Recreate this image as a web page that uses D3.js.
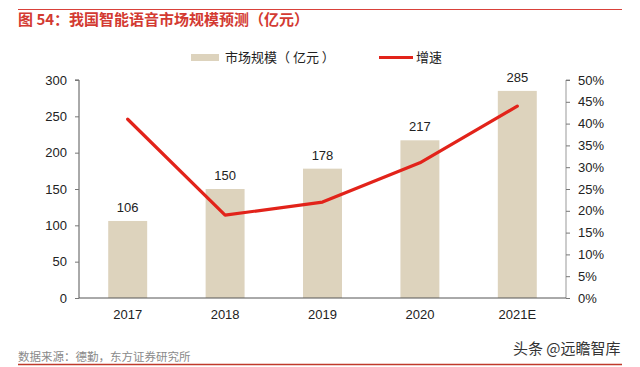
<!DOCTYPE html>
<html><head><meta charset="utf-8">
<script src="https://cdn.jsdelivr.net/npm/d3@7/dist/d3.min.js"></script>
<style>
body{margin:0;background:#fff;}
svg{display:block;font-family:"Liberation Sans",Arial,"Noto Sans CJK SC",sans-serif;}
</style></head>
<body>
<svg id="c" width="640" height="367"></svg>
<script>
const categories = ["2017","2018","2019","2020","2021E"];
const marketSize = [106,150,178,217,285];
const growth = [0.41,0.19,0.22,0.31,0.44];
const leftTicks = [0,50,100,150,200,250,300];
const rightTicks = [0,0.05,0.10,0.15,0.20,0.25,0.30,0.35,0.40,0.45,0.50];

const svg = d3.select("#c");
const cjk = '"Noto Sans CJK SC","Liberation Sans",sans-serif';
const L = 79, R = 566, T = 80, B = 298;

// top / bottom rules
svg.append("line").attr("x1",18).attr("x2",622).attr("y1",9.5).attr("y2",9.5).attr("stroke","#d9413a").attr("stroke-width",1.2);
svg.append("line").attr("x1",18).attr("x2",622).attr("y1",364.5).attr("y2",364.5).attr("stroke","#c0392b").attr("stroke-width",1.5);

svg.append("text").attr("x",18).attr("y",25).attr("font-family",cjk).attr("font-size",15).attr("font-weight","bold")
  .attr("fill","#d33a32").text("图 54：我国智能语音市场规模预测（亿元）");

const x = d3.scaleBand().domain(categories).range([L,R]).paddingInner(0.6).paddingOuter(0.3);
const y = d3.scaleLinear().domain([0,300]).range([B,T]);
const y2 = d3.scaleLinear().domain([0,0.5]).range([B,T]);

// bars
svg.selectAll("rect.bar").data(marketSize).enter().append("rect")
  .attr("x",(d,i)=>x(categories[i])).attr("width",x.bandwidth())
  .attr("y",d=>y(d)).attr("height",d=>B-y(d)).attr("fill","#ddd3bd");

svg.selectAll("text.lbl").data(marketSize).enter().append("text")
  .attr("x",(d,i)=>x(categories[i])+x.bandwidth()/2).attr("y",d=>y(d)-9)
  .attr("text-anchor","middle").attr("font-size",13).attr("fill","#222").text(d=>d);

// line
const line = d3.line().x((d,i)=>x(categories[i])+x.bandwidth()/2).y(d=>y2(d));
svg.append("path").datum(growth).attr("d",line).attr("fill","none")
  .attr("stroke","#e2231a").attr("stroke-width",3.2).attr("stroke-linejoin","round").attr("stroke-linecap","round");

// axes
const gl = svg.append("g").attr("transform",`translate(${L},0)`)
  .call(d3.axisLeft(y).tickValues(leftTicks).tickSize(4).tickPadding(8));
const gr = svg.append("g").attr("transform",`translate(${R},0)`)
  .call(d3.axisRight(y2).tickValues(rightTicks).tickSize(4).tickPadding(8).tickFormat(d3.format(".0%")));
const gb = svg.append("g").attr("transform",`translate(0,${B})`)
  .call(d3.axisBottom(x).tickSize(0).tickPadding(12));
[gl,gr,gb].forEach(g=>{
  g.select(".domain").attr("stroke","#555");
  g.selectAll(".tick line").attr("stroke","#777");
  g.selectAll("text").attr("font-size",13).attr("fill","#222").attr("font-family",'"Liberation Sans",Arial,sans-serif');
});
gl.select(".domain").attr("d",`M-4,${T}H0V${B}`);
gr.select(".domain").attr("d",`M4,${T}H0V${B}`).attr("stroke","#999");
gb.select(".domain").attr("d",`M${L},0H${R}`);

// legend
svg.append("rect").attr("x",191).attr("y",54).attr("width",28).attr("height",7).attr("fill","#ddd3bd");
svg.append("text").attr("x",225).attr("y",62).attr("font-family",cjk).attr("font-size",13).attr("fill","#222").text("市场规模（ 亿元 ）");
svg.append("line").attr("x1",379).attr("x2",413).attr("y1",57.5).attr("y2",57.5).attr("stroke","#e2231a").attr("stroke-width",3);
svg.append("text").attr("x",416).attr("y",62).attr("font-family",cjk).attr("font-size",13).attr("fill","#222").text("增速");

// footer
svg.append("text").attr("x",18).attr("y",361).attr("font-family",cjk).attr("font-size",11.5).attr("fill","#8a8a8a").text("数据来源：德勤，东方证券研究所");
svg.append("text").attr("x",513).attr("y",354).attr("font-family",cjk).attr("font-size",15).attr("fill","#333").text("头条 @远瞻智库");
</script>
</body></html>
